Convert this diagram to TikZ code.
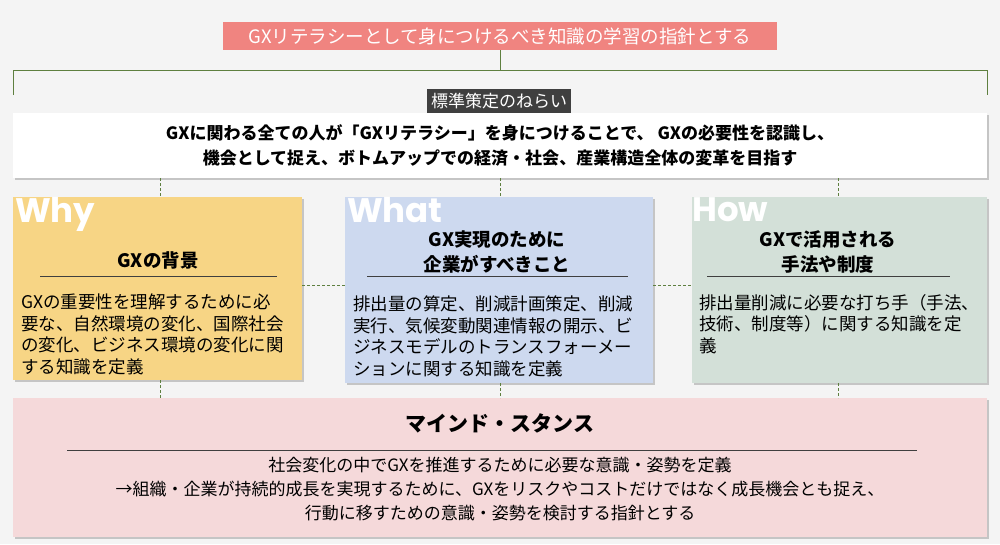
\documentclass[tikz,border=0pt]{standalone}
\usepackage{fontspec}
\setmainfont{Noto Sans CJK JP}
\newfontfamily\latf{Poppins}
\usetikzlibrary{shadows}
\definecolor{bg}{HTML}{F4F4F4}
\definecolor{ttl}{HTML}{F08480}
\definecolor{grn}{HTML}{5E7F3F}
\definecolor{dk}{HTML}{3F3F3F}
\definecolor{why}{HTML}{F7D585}
\definecolor{what}{HTML}{CDD9EF}
\definecolor{how}{HTML}{D3E0D8}
\definecolor{pk}{HTML}{F5D9DA}
\tikzset{
 card/.style={draw=none,drop shadow={shadow xshift=1.5pt,shadow yshift=-1.5pt,opacity=0.4}},
 conn/.style={grn,densely dashed,line width=0.6pt},
 big/.style={text=white,font=\latf\bfseries\fontsize{34}{34}\selectfont,anchor=north west,inner sep=0pt},
 head/.style={font=\fontsize{18.5}{25}\selectfont\bfseries,align=center},
 body/.style={font=\fontsize{17.5}{21.5}\selectfont,align=left,anchor=north west,inner sep=0pt},
}
\begin{document}
\begin{tikzpicture}[x=1pt,y=-1pt]
\fill[bg] (0,0) rectangle (1000,544);
\useasboundingbox (0,0) rectangle (1000,544);
% title
\node[fill=ttl,text=white,minimum width=554pt,minimum height=28pt,inner sep=0pt,font=\fontsize{18.5}{18}\selectfont] (title) at (500,36) {GXリテラシーとして身につけるべき知識の学習の指針とする};
\coordinate (tb) at (500,70);
\draw[grn,line width=0.8pt] (title.south) -- (tb);
\draw[grn,line width=0.8pt] (13,95) -- (13,70) -- (987,70) -- (987,95);
% aim
\node[card,fill=white,minimum width=974pt,minimum height=65pt,inner sep=0pt] (aim) at (500,145.5) {};
\node[font=\fontsize{17}{25}\selectfont\bfseries,align=center] at (aim) {GXに関わる全ての人が「GXリテラシー」を身につけることで、 GXの必要性を認識し、\\機会として捉え、ボトムアップでの経済・社会、産業構造全体の変革を目指す};
\node[fill=dk,text=white,minimum width=144pt,minimum height=24pt,inner sep=0pt,font=\fontsize{17}{17}\selectfont] (lab) at (499,101) {標準策定のねらい};
% boxes
\node[card,fill=why,minimum width=289pt,minimum height=183pt,inner sep=0pt] (w1) at (157.5,288.5) {};
\node[card,fill=what,minimum width=308pt,minimum height=186pt,inner sep=0pt] (w2) at (499,290) {};
\node[card,fill=how,minimum width=295pt,minimum height=186pt,inner sep=0pt] (w3) at (839.5,290) {};
\node[card,fill=pk,minimum width=974pt,minimum height=139pt,inner sep=0pt] (ms) at (500,467.5) {};
% connectors
\draw[conn] (160,178) -- (160,197);
\draw[conn] (500,178) -- (500,197);
\draw[conn] (838,178) -- (838,197);
\draw[conn] (160,380) -- (160,398);
\draw[conn] (500,383) -- (500,398);
\draw[conn] (838,383) -- (838,398);
\draw[conn] (w1.east|-0,285) -- (w2.west|-0,285);
\draw[conn] (w2.east|-0,285) -- (w3.west|-0,285);
% big labels
\node[big] at (15,197) {Why};
\node[big] at (347,197) {What};
\node[big] at (692,197) {How};
% headings
\node[head] (h1) at (158,260) {GXの背景};
\node[head] (h2) at (497,252) {GX実現のために\\企業がすべきこと};
\node[head] (h3) at (828,252) {GXで活用される\\手法や制度};
\draw[dk,line width=1pt] (40,276) -- (277,276);
\draw[dk,line width=1pt] (367,276) -- (628,276);
\draw[dk,line width=1pt] (707,276) -- (950,276);
% bodies
\node[body] at (21,294) {GXの重要性を理解するために必\\要な、自然環境の変化、国際社会\\の変化、ビジネス環境の変化に関\\する知識を定義};
\node[body] at (353,296) {排出量の算定、削減計画策定、削減\\実行、気候変動関連情報の開示、ビ\\ジネスモデルのトランスフォーメー\\ションに関する知識を定義};
\node[body] at (699,294) {排出量削減に必要な打ち手（手法、\\技術、制度等）に関する知識を定\\義};
% mind
\node[font=\fontsize{21}{21}\selectfont\bfseries] at (500,423) {マインド・スタンス};
\draw[dk,line width=1pt] (67,450) -- (917,450);
\node[font=\fontsize{17}{24}\selectfont,align=center] at (500,489) {社会変化の中でGXを推進するために必要な意識・姿勢を定義\\→組織・企業が持続的成長を実現するために、GXをリスクやコストだけではなく成長機会とも捉え、\\行動に移すための意識・姿勢を検討する指針とする};
\end{tikzpicture}
\end{document}
